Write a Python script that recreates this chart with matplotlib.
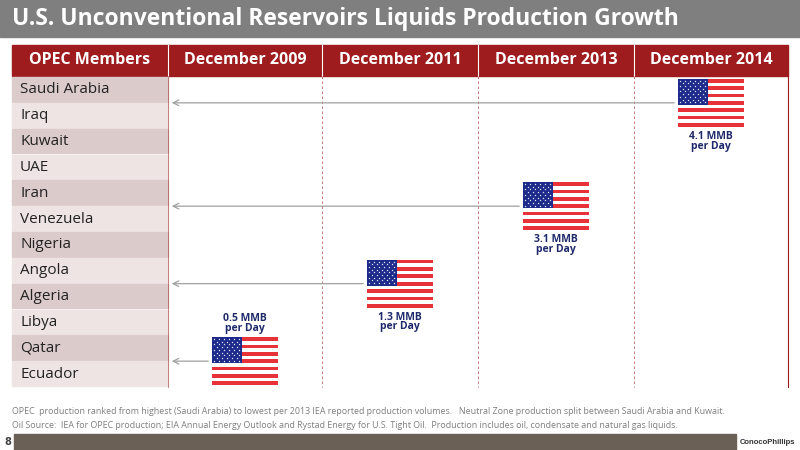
import matplotlib

matplotlib.use("Agg")

import matplotlib.pyplot as plt
from matplotlib.patches import Rectangle

TITLE = "U.S. Unconventional Reservoirs Liquids Production Growth"
columns = ["OPEC Members", "December 2009", "December 2011", "December 2013", "December 2014"]
members = ["Saudi Arabia", "Iraq", "Kuwait", "UAE", "Iran", "Venezuela", "Nigeria",
           "Angola", "Algeria", "Libya", "Qatar", "Ecuador"]
# U.S. production per period and the OPEC member it matches
us_production = [0.5, 1.3, 3.1, 4.1]
matched_member = ["Qatar", "Angola", "Iran", "Saudi Arabia"]
footnotes = [
    "OPEC  production ranked from highest (Saudi Arabia) to lowest per 2013 IEA reported production volumes.   "
    "Neutral Zone production split between Saudi Arabia and Kuwait.",
    "Oil Source:  IEA for OPEC production; EIA Annual Energy Outlook and Rystad Energy for U.S. Tight Oil.  "
    "Production includes oil, condensate and natural gas liquids.",
]

RED = "#9E1B1E"
ROW_DARK = "#DCCBCB"
ROW_LIGHT = "#EFE4E4"
GREY_BAR = "#7F7F7F"
NAVY = "#1F2A6B"
FONT = "Open Sans"

fig = plt.figure(figsize=(8, 4.5), dpi=100)
ax = fig.add_axes([0, 0, 1, 1])
ax.set_xlim(0, 800)
ax.set_ylim(450, 0)
ax.axis("off")

# title bar
ax.add_patch(Rectangle((0, 0), 800, 37, color=GREY_BAR))
ax.text(12, 19, TITLE, color="white", fontsize=16.5, fontweight="bold", va="center", family=FONT)

col_x = [12, 168, 322, 478, 634, 788]
head_top, head_bot = 45, 76
row_h = (387 - 77) / len(members)

ax.add_patch(Rectangle((col_x[0], head_top), col_x[-1] - col_x[0], head_bot - head_top, color=RED))
for i, name in enumerate(columns):
    ax.text((col_x[i] + col_x[i + 1]) / 2, (head_top + head_bot) / 2, name, color="white",
            fontsize=11.5, fontweight="bold", ha="center", va="center", family=FONT)
    if 0 < i:
        ax.plot([col_x[i], col_x[i]], [head_top, head_bot], color="white", lw=0.8)

for r, name in enumerate(members):
    y0 = 77 + r * row_h
    ax.add_patch(Rectangle((col_x[0], y0), col_x[1] - col_x[0], row_h - 1,
                           color=ROW_DARK if r % 2 == 0 else ROW_LIGHT))
    ax.text(col_x[0] + 8, y0 + row_h / 2, name, fontsize=11, va="center", color="#222222",
            family=FONT)

for x in col_x[2:-1]:
    ax.plot([x, x], [head_bot, 387], color=RED, lw=0.6, ls=(0, (3, 3)), alpha=0.7)
ax.plot([col_x[-1], col_x[-1]], [head_bot, 387], color=RED, lw=0.8)
ax.plot([col_x[1], col_x[1]], [head_bot, 387], color=RED, lw=0.6, alpha=0.6)


def draw_flag(cx, cy, w=66, h=48):
    x0, y0 = cx - w / 2, cy - h / 2
    sh = h / 13
    for k in range(13):
        ax.add_patch(Rectangle((x0, y0 + k * sh), w, sh, color="#E8323A" if k % 2 == 0 else "white", lw=0))
    cw, ch = w * 0.45, sh * 7
    ax.add_patch(Rectangle((x0, y0), cw, ch, color="#1C2A8C", lw=0))
    for j in range(9):
        n = 6 if j % 2 == 0 else 5
        for i in range(n):
            sx = x0 + cw * ((i + (0.5 if j % 2 == 0 else 1.0)) / 6)
            sy = y0 + ch * (j + 0.7) / 9.6
            ax.plot(sx, sy, marker="*", color="white", ms=1.6, mew=0)


for k, (val, member) in enumerate(zip(us_production, matched_member)):
    r = members.index(member)
    cy = 77 + (r + 1) * row_h
    cx = (col_x[k + 1] + col_x[k + 2]) / 2
    ax.annotate("", xy=(col_x[1] + 1, cy), xytext=(cx - 34, cy),
                arrowprops=dict(arrowstyle="->", color="#A0A0A0", lw=0.9))
    draw_flag(cx, cy)
    label = f"{val} MMB\nper Day"
    if k == 0:
        ax.text(cx, cy - 27, label, ha="center", va="bottom", fontsize=7.5, fontweight="bold",
                color=NAVY, linespacing=0.85, family=FONT)
    else:
        ax.text(cx, cy + 28, label, ha="center", va="top", fontsize=7.5, fontweight="bold",
                color=NAVY, linespacing=0.85, family=FONT)

for i, line in enumerate(footnotes):
    ax.text(12, 412 + i * 14, line, fontsize=6.4, color="#7F7F7F", va="center", family=FONT)

ax.add_patch(Rectangle((14, 434), 722, 16, color="#6B6056"))
ax.text(4, 442, "8", fontsize=7, fontweight="bold", color="#444444", va="center")
ax.text(767, 443, "ConocoPhillips", fontsize=5.5, fontweight="bold", color="#333333",
        ha="center", va="center", family="Liberation Sans")

fig.savefig("out.png", dpi=100)
